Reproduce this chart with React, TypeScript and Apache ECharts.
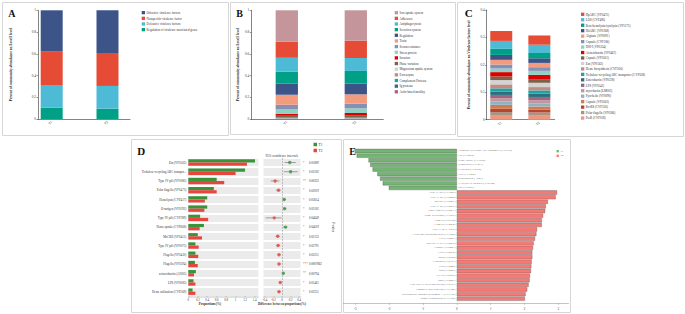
import React, { useEffect, useRef } from 'react';
import * as echarts from 'echarts';

const FONT = '"Liberation Serif", "Times New Roman", serif';
const INK = '#333';

const samples = ['T1', 'T2'];

// ---- Panel A (Level1) : legend order top -> bottom
const level1Names = [
  'Offensive virulence factors',
  'Nonspecific virulence factor',
  'Defensive virulence factors',
  'Regulation of virulence-associated genes',
];
const level1Colors = ['#3C5488', '#E64B35', '#4DBBD5', '#00A087'];
const level1T1 = [0.38, 0.313, 0.203, 0.104];
const level1T2 = [0.393, 0.303, 0.209, 0.095];

// ---- Panel B (Level2)
const level2Names = [
  'Iron uptake system', 'Adherence', 'Antiphagocytosis', 'Secretion system', 'Regulation',
  'Toxin', 'Serum resistance', 'Stress protein', 'Invasion', 'Phase variation',
  'Magnesium uptake system', 'Exoenzyme', 'Complement Protease', 'Ig protease', 'Actin-based motility',
];
const level2Colors = [
  '#C4959B', '#E64B35', '#4DBBD5', '#00A087', '#3C5488', '#F39B7F', '#8491B4', '#91D1C2',
  '#DC0000', '#7E6148', '#D3D3D3', '#C48B7F', '#1BA6A6', '#2B6F7E', '#A06680',
];
const level2T1 = [0.289, 0.148, 0.128, 0.108, 0.104, 0.092, 0.043, 0.04, 0.018, 0.018, 0.004, 0.003, 0.002, 0.002, 0.001];
const level2T2 = [0.279, 0.16, 0.119, 0.117, 0.098, 0.086, 0.043, 0.043, 0.024, 0.019, 0.004, 0.003, 0.002, 0.002, 0.001];

// ---- Panel C (Virulence factors)
const vfNames = [
  'HpABC (VF0473)', 'LOS (CVF496)', 'Beta-hemolysin/cytolysin (VF1173)', 'HitABC (VF0268)',
  'Alginate (VF0091)', 'Capsule (CVF186)', 'HSI-I (VF0334)', 'Acinetobactin (VF0467)',
  'Capsule (VF0561)', 'Ent (VF0562)', 'Heme biosynthesis (CVF506)',
  'Trehalose-recycling ABC transporter (CVF638)', 'Enterobactin (VF0228)', 'LPS (VF0542)',
  'mycobactin (LM003)', 'Pyochelin (VF0090)', 'Capsule (VF0560)', 'BvrRS (CVF336)',
  'Polar flagella (VF0586)', 'PseB (CVF018)',
];
const vfColors = [
  '#E64B35', '#4DBBD5', '#00A087', '#3C5488', '#F39B7F', '#8491B4', '#91D1C2', '#DC0000',
  '#7E6148', '#D3D3D3', '#C48B7F', '#1BA6A6', '#2B6F7E', '#A06680', '#C4959B', '#8FB3C4',
  '#D17B4F', '#B8452F', '#A89485', '#EE977D',
];
const vfT1 = [0.036, 0.029, 0.022, 0.018, 0.017, 0.0145, 0.0133, 0.0157, 0.0133, 0.0157, 0.0145, 0.012, 0.012, 0.012, 0.012, 0.012, 0.0145, 0.012, 0.0108, 0.017];
const vfT2 = [0.0337, 0.0301, 0.0193, 0.0169, 0.0157, 0.0133, 0.0145, 0.0157, 0.0133, 0.0157, 0.012, 0.012, 0.012, 0.012, 0.012, 0.0108, 0.012, 0.0096, 0.0096, 0.0169];

// ---- Panel D (two-group comparison)
const dNames = [
  'Ent (VF0562)', 'Trehalose-recycling ABC transporter (CVF638)', 'Type IV pili (VF0082)',
  'Polar flagella (VF0473)', 'Hemolysin (CVF417)', 'O-antigen (VF0392)', 'Type IV pili (CVF289)',
  'Heme uptake (CVF668)', 'MsCBE (VF0451)', 'Type IV pili (VF0075)', 'Flagella (VF0430)',
  'Flagella (VF0394)', 'acinetobactin (AI003)', 'LPS (VF0083)', 'Heme utilization (CVF569)',
];
const dT1 = [1.41, 1.2, 0.6, 0.54, 0.4, 0.4, 0.25, 0.33, 0.2, 0.15, 0.15, 0.14, 0.16, 0.11, 0.09];
const dT2 = [1.24, 1.0, 0.76, 0.6, 0.35, 0.34, 0.42, 0.24, 0.29, 0.22, 0.21, 0.2, 0.12, 0.15, 0.15];
const dDiff = [0.18, 0.2, -0.16, -0.08, 0.05, 0.06, -0.18, 0.08, -0.1, -0.09, -0.07, -0.07, 0.03, -0.04, -0.07];
const dLow = [0.06, 0.04, -0.26, -0.14, 0.02, 0.02, -0.38, 0.03, -0.15, -0.14, -0.11, -0.1, 0.01, -0.07, -0.11];
const dHigh = [0.32, 0.37, -0.06, -0.03, 0.09, 0.1, -0.01, 0.13, -0.05, -0.04, -0.03, -0.03, 0.05, -0.01, -0.03];
const dP = ['0.03089', '0.03102', '0.00323', '0.02019', '0.03614', '0.03102', '0.04649', '0.04619', '0.02133', '0.02791', '0.02251', '0.0007862', '0.00794', '0.01461', '0.02251'];
const dTicks = [0, 0.2, 0.4, 0.6, 0.8, 1, 1.2, 1.4];
const ciTicks = [-0.4, -0.2, 0, 0.2, 0.4];

// ---- Panel E (LDA-like diverging bars)
const eT1Names = [
  'Trehalose-recycling ABC transporter (CVF638)', 'Ent (VF0562)', 'Heme uptake (CVF668)',
  'Hemolysin (CVF417)', 'O-antigen (VF0392)', 'EPS (CVF494)', 'acinetobactin (AI003)',
  'TTSS(SPI-2 encoded) (VF0322)', 'Hpt (VF0597)',
];
const eT1Scores = [-3.01, -2.96, -2.61, -2.56, -2.49, -2.35, -2.27, -2.19, -2.01];
const eT2Names = [
  'Type IV pili (CVF289)', 'Type IV pili (VF0082)', 'MsCBE (VF0451)', 'Type IV pili (VF0075)',
  'Polar flagella (VF0473)', 'Heme utilization (CVF569)', 'Flagella (VF0394)', 'Flagella (VF0430)',
  'type IV pili (AI018)', 'Cytolethal distending toxin (CVF508)', 'LPS (VF0083)',
  'Tap type IV pili (VF0475)', 'Capsule (VF0003)', 'ClpP (VF0432)', 'Msh (VF0124)',
  'F-antigen (VF0393)', 'Csu (VF0446)', 'Bap (VF0453)', 'AcrAB (VF0568)', 'PhoP (VF0003)',
  'VirB type IV secretion system (VF0363)', 'Enhanced entry proteins (CVF346)',
  'Streptococcal lipoprotein rotamase A (CVF370)', 'Alginate biosynthesis (CVF322)',
];
const eT2Scores = [2.96, 2.92, 2.69, 2.63, 2.61, 2.55, 2.51, 2.51, 2.37, 2.35, 2.31, 2.27, 2.25, 2.23, 2.23, 2.21, 2.2, 2.19, 2.16, 2.15, 2.12, 2.08, 2.03, 2.01];
const eTicks = [-3, -2, -1, 0, 1, 2, 3];

const D_GREEN = '#3A923A';
const D_RED = '#E8463C';
const E_GREEN = '#74B474';
const E_RED = '#F47A76';

function stackSeries(names: string[], colors: string[], t1: number[], t2: number[], axis: number, stack: string, barWidth: number) {
  const out: any[] = [];
  for (let i = names.length - 1; i >= 0; i--) {
    out.push({
      name: names[i], type: 'bar', stack, xAxisIndex: axis, yAxisIndex: axis,
      data: [t1[i], t2[i]], barWidth, itemStyle: { color: colors[i] }, silent: true,
    });
  }
  return out;
}

function stackLegend(names: string[], left: number, top: number, gap: number) {
  return {
    data: names, left, top, orient: 'vertical', padding: 0, itemWidth: 3.3, itemHeight: 3.3,
    itemGap: gap, icon: 'rect', selectedMode: false,
    textStyle: { fontSize: 3.1, lineHeight: 3.3, color: INK, fontFamily: FONT, padding: [0, 0, 0, -3.5] },
  };
}

function visibleAxes(grid: number, max: number, interval: number, name: string, nameGap: number) {
  return {
    x: {
      type: 'category', gridIndex: grid, data: [''],
      axisLine: { lineStyle: { color: INK, width: 0.6 } }, axisTick: { show: false }, axisLabel: { show: false },
    },
    y: {
      type: 'value', gridIndex: grid, min: 0, max, interval,
      axisLine: { show: true, lineStyle: { color: INK, width: 0.6 } },
      axisTick: { show: true, length: 1.5, lineStyle: { color: INK, width: 0.5 } },
      axisLabel: { fontSize: 3.4, margin: 2, color: INK, fontFamily: FONT },
      splitLine: { show: false },
      name, nameLocation: 'middle', nameGap,
      nameTextStyle: { fontSize: 3.5, fontWeight: 'bold', color: INK, fontFamily: FONT },
    },
  };
}

function barAxes(grid: number, max: number) {
  return {
    x: {
      type: 'category', gridIndex: grid, data: samples,
      axisLine: { show: false }, axisTick: { show: false },
      axisLabel: { rotate: 45, fontSize: 3.5, margin: 2.5, color: INK, fontFamily: FONT },
    },
    y: { type: 'value', gridIndex: grid, min: 0, max, show: false },
  };
}

const aVis = visibleAxes(0, 1, 0.2, 'Percent of community abundance on Level1 level', 25.5);
const aBar = barAxes(1, 1);
const bVis = visibleAxes(2, 1, 0.2, 'Percent of community abundance on Level2 level', 11.5);
const bBar = barAxes(3, 1);
const cVis = visibleAxes(4, 0.4, 0.1, 'Percent of community abundance on Virulence factors level', 15.5);
const cBar = barAxes(5, 0.4);

const eNames = [...eT1Names, ...eT2Names];

const bandSplit = {
  splitArea: { show: true, interval: 0, areaStyle: { color: ['#EBEBEB'] } },
  splitLine: { show: true, interval: 0, lineStyle: { color: '#FFFFFF', width: 1.8 } },
};

function border(x: number, y: number, w: number, h: number) {
  return { type: 'rect', silent: true, shape: { x: x + 0.5, y: y + 0.5, width: w, height: h }, style: { fill: 'none', stroke: '#D6D6D6', lineWidth: 1 } };
}
function letter(t: string, x: number, y: number, size: number) {
  return { type: 'text', silent: true, x, y, style: { text: t, fontSize: size, fontFamily: FONT, fontWeight: 'bold', fill: '#111', verticalAlign: 'middle' } };
}

const option: any = {
  animation: false,
  backgroundColor: '#fff',
  textStyle: { fontFamily: FONT },
  grid: [
    { left: 38, top: 10.3, width: 92, height: 108.7 },
    { left: 23.8, top: 10.3, width: 111.6, height: 108.7 },
    { left: 251.3, top: 10.3, width: 132, height: 108.7 },
    { left: 252.3, top: 10.3, width: 138, height: 108.7 },
    { left: 486.7, top: 10, width: 68, height: 109.7 },
    { left: 482.2, top: 10, width: 76.2, height: 109.7 },
    { left: 188.3, top: 157.9, width: 70, height: 138.4 },
    { left: 263.5, top: 157.9, width: 37, height: 138.4 },
    { left: 343.5, top: 148.7, width: 225, height: 152.3 },
  ],
  xAxis: [
    aVis.x, aBar.x, bVis.x, bBar.x, cVis.x, cBar.x,
    {
      type: 'value', gridIndex: 6, min: 0, max: 1.48,
      axisLine: { show: true, lineStyle: { color: '#666', width: 0.4 } },
      axisTick: { show: true, length: 1, customValues: dTicks, lineStyle: { color: '#666', width: 0.4 } },
      axisLabel: { fontSize: 3, margin: 1.5, color: INK, customValues: dTicks },
      splitLine: { show: false },
    },
    {
      type: 'value', gridIndex: 7, min: -0.43, max: 0.43,
      axisLine: { show: true, lineStyle: { color: '#666', width: 0.4 } },
      axisTick: { show: true, length: 1, customValues: ciTicks, lineStyle: { color: '#666', width: 0.4 } },
      axisLabel: { fontSize: 3, margin: 1.5, color: INK, customValues: ciTicks },
      splitLine: { show: false },
      name: 'Difference between proportions(%)', nameLocation: 'middle', nameGap: 6.4,
      nameTextStyle: { fontSize: 3.2, fontWeight: 'bold', color: INK },
    },
    {
      type: 'value', gridIndex: 8, min: -3.35, max: 3.3, offset: 2.3,
      axisLine: { show: true, lineStyle: { color: '#888', width: 0.5 } },
      axisTick: { show: true, length: 1.5, customValues: eTicks, lineStyle: { color: '#888', width: 0.5 } },
      axisLabel: { fontSize: 3, margin: 3.5, color: INK, customValues: eTicks },
      splitLine: { show: false },
    },
  ],
  yAxis: [
    aVis.y, aBar.y, bVis.y, bBar.y, cVis.y, cBar.y,
    {
      type: 'category', gridIndex: 6, data: dNames, inverse: true,
      axisLine: { show: false, onZero: false }, axisTick: { show: false },
      axisLabel: { fontSize: 3.1, margin: 2, color: INK, interval: 0, width: 46, overflow: 'truncate', ellipsis: '...' },
      ...bandSplit,
    },
    {
      type: 'category', gridIndex: 7, data: dNames, inverse: true,
      axisLine: { show: false, onZero: false }, axisTick: { show: false }, axisLabel: { show: false },
      ...bandSplit,
    },
    {
      type: 'category', gridIndex: 7, data: dP, inverse: true, position: 'right',
      axisLine: { show: false, onZero: false }, axisTick: { show: false },
      axisLabel: {
        interval: 0, margin: 2.5,
        formatter: (v: string) => {
          const p = parseFloat(v);
          const s = p < 0.001 ? '***' : p < 0.01 ? '**' : '*';
          return `{s|${s}}{p|${v}}`;
        },
        rich: {
          s: { color: D_RED, width: 6, fontSize: 3.2 },
          p: { color: INK, fontSize: 3 },
        },
      },
      splitLine: { show: false },
      name: 'P-value', nameLocation: 'middle', nameGap: 31, nameRotate: -90,
      nameTextStyle: { fontSize: 3.3, color: INK },
    },
    {
      type: 'category', gridIndex: 8, data: eNames, inverse: true, show: false,
      axisLine: { onZero: false },
    },
  ],
  legend: [
    stackLegend(level1Names, 141.7, 11, 2.37),
    stackLegend(level2Names, 394.7, 11.05, 2.35),
    stackLegend(vfNames, 581, 12.65, 2.16),
    {
      data: ['T1', 'T2'], left: 313.5, top: 142.5, orient: 'vertical', padding: 0,
      itemWidth: 3.5, itemHeight: 3.5, itemGap: 2, icon: 'rect', selectedMode: false,
      textStyle: { fontSize: 3.5, lineHeight: 3.5, color: INK, padding: [0, 0, 0, -3.5] },
    },
    {
      data: [
        { name: 'T1', itemStyle: { color: E_GREEN } },
        { name: 'T2', itemStyle: { color: E_RED } },
      ],
      left: 556.5, top: 149.7, orient: 'vertical', padding: 0,
      itemWidth: 2.4, itemHeight: 2.4, itemGap: 1.6, icon: 'rect', selectedMode: false,
      textStyle: { fontSize: 2.5, lineHeight: 2.5, color: INK, padding: [0, 0, 0, -3.5] },
    },
  ],
  series: [
    ...stackSeries(level1Names, level1Colors, level1T1, level1T2, 1, 'A', 22),
    ...stackSeries(level2Names, level2Colors, level2T1, level2T2, 3, 'B', 22.3),
    ...stackSeries(vfNames, vfColors, vfT1, vfT2, 5, 'C', 22),
    {
      name: 'T1', type: 'bar', xAxisIndex: 6, yAxisIndex: 6, data: dT1,
      barWidth: 3.2, barGap: '0%', itemStyle: { color: D_GREEN }, silent: true,
    },
    {
      name: 'T2', type: 'bar', xAxisIndex: 6, yAxisIndex: 6, data: dT2,
      barWidth: 3.2, barGap: '0%', itemStyle: { color: D_RED }, silent: true,
    },
    {
      type: 'custom', xAxisIndex: 7, yAxisIndex: 7, silent: true,
      data: dNames.map((_, i) => [dLow[i], dHigh[i], i]),
      encode: { x: [0, 1], y: 2 },
      renderItem: (_params: any, api: any) => {
        const a = api.coord([api.value(0), api.value(2)]);
        const b = api.coord([api.value(1), api.value(2)]);
        return {
          type: 'line',
          shape: { x1: a[0], y1: a[1], x2: b[0], y2: b[1] },
          style: { stroke: '#555', lineWidth: 0.5 },
        };
      },
      z: 3,
    },
    {
      type: 'scatter', xAxisIndex: 7, yAxisIndex: 7, symbolSize: 3.4, silent: true, z: 4,
      data: dDiff.map((d, i) => ({ value: [d, i], itemStyle: { color: d >= 0 ? D_GREEN : D_RED } })),
      markLine: {
        silent: true, symbol: 'none', label: { show: false },
        lineStyle: { type: 'dashed', color: '#888', width: 0.5 },
        data: [{ xAxis: 0 }],
      },
    },
    {
      name: 'T1', type: 'bar', xAxisIndex: 8, yAxisIndex: 9, silent: true,
      data: [...eT1Scores, ...eT2Names.map(() => '-')],
      barWidth: 4.2, barGap: '-100%',
      itemStyle: { color: E_GREEN, borderColor: '#555', borderWidth: 0.35 },
    },
    {
      name: 'T2', type: 'bar', xAxisIndex: 8, yAxisIndex: 9, silent: true,
      data: [...eT1Names.map(() => '-'), ...eT2Scores],
      barWidth: 4.2, barGap: '-100%',
      itemStyle: { color: E_RED, borderColor: '#555', borderWidth: 0.35 },
    },
    {
      type: 'scatter', xAxisIndex: 8, yAxisIndex: 9, silent: true, symbolSize: 0.01,
      itemStyle: { color: 'rgba(0,0,0,0)' },
      data: eT1Names.map((n, i) => ({ name: n, value: [0, i] })),
      label: { show: true, position: 'right', distance: 1.5, formatter: '{b}', fontSize: 2.8, color: INK },
    },
    {
      type: 'scatter', xAxisIndex: 8, yAxisIndex: 9, silent: true, symbolSize: 0.01,
      itemStyle: { color: 'rgba(0,0,0,0)' },
      data: eT2Names.map((n, j) => ({ name: n, value: [0, eT1Names.length + j] })),
      label: { show: true, position: 'left', distance: 1.5, formatter: '{b}', fontSize: 2.8, color: INK },
    },
  ],
  graphic: [
    border(2, 2, 226, 133),
    border(230, 2, 225, 132),
    border(457, 2, 226, 134),
    border(131, 139, 210, 173),
    border(343, 139, 227, 173),
    letter('A', 8.2, 13.5, 10),
    letter('B', 236.2, 13.5, 10),
    letter('C', 464.8, 12.8, 11),
    letter('D', 137.2, 150.6, 11),
    letter('E', 349.3, 151.8, 10),
    {
      type: 'text', silent: true, x: 281.7, y: 155.7,
      style: { text: '95% confidence intervals', fontSize: 3.2, fontFamily: FONT, fill: INK, align: 'center', verticalAlign: 'middle' },
    },
    {
      type: 'text', silent: true, x: 210, y: 304.3,
      style: { text: 'Proportions(%)', fontSize: 3.3, fontFamily: FONT, fontWeight: 'bold', fill: INK, align: 'center', verticalAlign: 'middle' },
    },
  ],
};

export default function App() {
  const ref = useRef<HTMLDivElement>(null);
  useEffect(() => {
    const chart = echarts.init(ref.current!, null, { renderer: 'svg' });
    chart.setOption(option);
    return () => chart.dispose();
  }, []);
  return (
    <div
      ref={ref}
      style={{ position: 'fixed', left: 0, top: 0, width: 685, height: 314, background: '#fff' }}
    />
  );
}
